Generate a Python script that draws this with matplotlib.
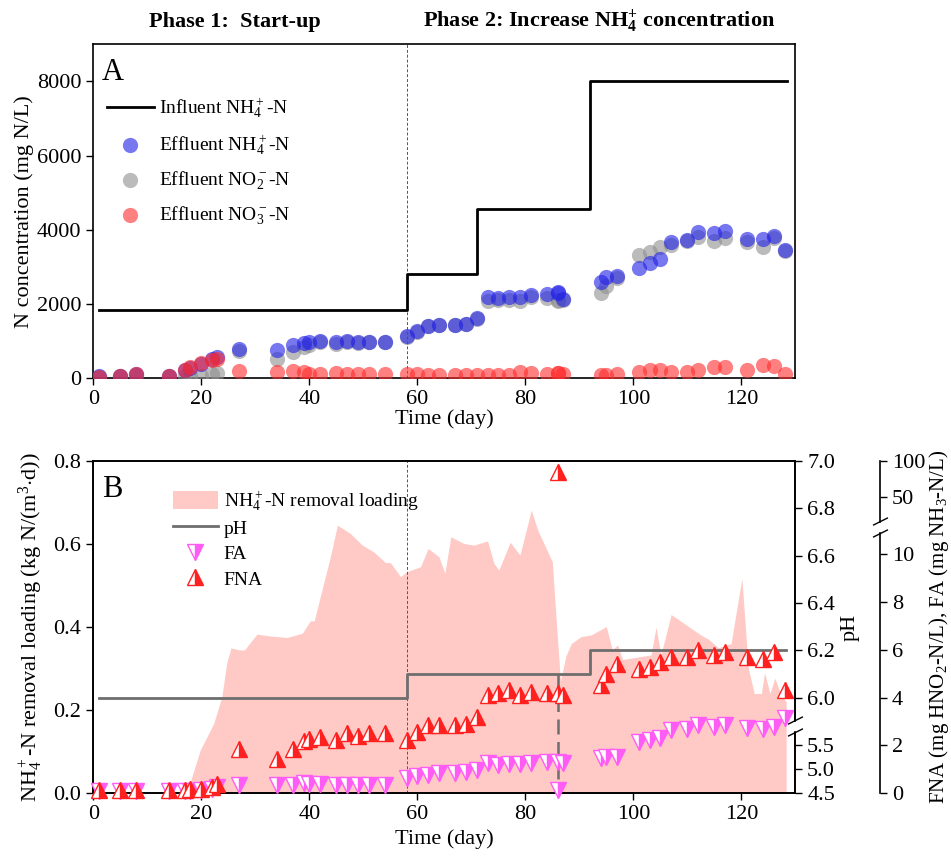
import numpy as np
import matplotlib
matplotlib.use('Agg')
import matplotlib.pyplot as plt
from matplotlib.path import Path

plt.rcParams['font.family'] = ['Liberation Serif', 'DejaVu Serif']
plt.rcParams['mathtext.fontset'] = 'custom'
plt.rcParams['mathtext.rm'] = 'Liberation Serif'
plt.rcParams['mathtext.it'] = 'Liberation Serif:italic'
plt.rcParams['mathtext.bf'] = 'Liberation Serif:bold'
plt.rcParams['font.size'] = 16
plt.rcParams['axes.linewidth'] = 1.2

# Panel A: nitrogen concentrations (mg N/L)
influent_days = [1, 58, 71, 92, 128.4]
influent_nh4 = [1830, 2800, 4550, 8000, 8000]

sample_days = [1, 5, 8, 14, 17, 18, 20, 22, 23, 27, 34, 37, 39, 40, 42, 45, 47, 49, 51, 54,
               58, 60, 62, 64, 67, 69, 71, 73, 75, 77, 79, 81, 84, 86, 86, 87, 94, 95, 97,
               101, 103, 105, 107, 110, 112, 115, 117, 121, 124, 126, 128]
eff_nh4 = [50, 60, 110, 60, 220, 280, 380, 500, 560, 790, 760, 880, 940, 970, 990,
           970, 990, 970, 970, 970, 1120, 1270, 1390, 1430, 1430, 1460, 1620,
           2180, 2150, 2180, 2180, 2240, 2270, 2310, 2280, 2140, 2580, 2720, 2760,
           2970, 3090, 3210, 3660, 3720, 3930, 3910, 3960, 3740, 3750, 3840, 3450]
eff_no2 = [40, 50, 90, 50, 60, 60, 60, 100, 140, 740, 510, 690, 840, 900, 960,
           920, 960, 950, 960, 960, 1110, 1250, 1400, 1420, 1420, 1450, 1600,
           2090, 2100, 2100, 2080, 2180, 2150, 2110, 2090, 2100, 2290, 2490, 2700,
           3330, 3390, 3540, 3600, 3700, 3810, 3690, 3780, 3660, 3540, 3770, 3430]
eff_no3 = [40, 50, 100, 50, 210, 300, 400, 480, 520, 200, 150, 180, 150, 120, 120,
           130, 120, 110, 100, 100, 100, 100, 90, 80, 90, 90, 90,
           70, 70, 90, 160, 130, 120, 130, 140, 110, 90, 90, 100,
           170, 230, 230, 170, 170, 210, 290, 290, 210, 350, 320, 100]

# Panel B: removal loading, pH, FA / FNA
load_days = [17.3, 19.8, 22.3, 23.8, 24.7, 25.5, 27, 28, 30.3, 33,
             35.9, 38.7, 40.2, 40.9, 43.9, 45.2, 47.6, 49.8, 52, 54.1,
             55, 56.9, 58, 60.6, 62, 64, 65.1, 66.2, 68.6, 70.5,
             73, 74.2, 75.1, 77.2, 79, 81.1, 82.3, 85, 85.7, 86.5,
             87.5, 88.5, 90.3, 92.2, 95, 96.1, 97.1, 98, 103.3, 104.2,
             105.1, 107, 112.6, 114, 115.7, 118.1, 120.1, 121.3, 122.4, 123.7,
             124.3, 125.3, 126.2, 127.4, 128.3]
load_vals = [0.0, 0.104, 0.168, 0.232, 0.313, 0.35, 0.345, 0.345, 0.383, 0.378,
             0.375, 0.385, 0.415, 0.415, 0.569, 0.645, 0.625, 0.597, 0.58, 0.555,
             0.555, 0.521, 0.533, 0.545, 0.589, 0.569, 0.529, 0.617, 0.601, 0.597,
             0.607, 0.553, 0.537, 0.604, 0.573, 0.681, 0.633, 0.557, 0.42, 0.27,
             0.33, 0.36, 0.377, 0.381, 0.401, 0.345, 0.357, 0.322, 0.333, 0.4,
             0.333, 0.43, 0.38, 0.37, 0.35, 0.36, 0.517, 0.3, 0.24, 0.24,
             0.29, 0.24, 0.277, 0.236, 0.22]

ph_days = [1, 58, 92, 128.3]
ph_vals = [6.0, 6.1, 6.2, 6.2]
shock_day = 86
shock_ph = 4.78

fna = [0.15, 0.15, 0.15, 0.15, 0.15, 0.2, 0.2, 0.25, 0.4, 1.87, 1.43, 1.85, 2.18, 2.26, 2.36,
       2.22, 2.5, 2.4, 2.5, 2.5, 2.22, 2.57, 2.85, 2.85, 2.85, 2.9, 3.19,
       4.1, 4.2, 4.3, 4.12, 4.23, 4.2, 4.2, 85, 4.1, 4.54, 5.0, 5.42,
       5.18, 5.28, 5.48, 5.69, 5.69, 5.97, 5.79, 5.9, 5.69, 5.6, 5.9, 4.3]
fa = [0.1, 0.1, 0.1, 0.1, 0.1, 0.1, 0.15, 0.2, 0.25, 0.35, 0.35, 0.35, 0.42, 0.4, 0.4,
      0.35, 0.35, 0.35, 0.35, 0.35, 0.66, 0.72, 0.76, 0.83, 0.83, 0.9, 0.97,
      1.25, 1.2, 1.22, 1.22, 1.25, 1.29, 1.3, 0.15, 1.25, 1.46, 1.52, 1.52,
      2.15, 2.22, 2.29, 2.64, 2.68, 2.85, 2.78, 2.85, 2.71, 2.68, 2.78, 3.13]

phase_change = 58


def piecewise(xp, fp):
    xp = np.asarray(xp, float)
    fp = np.asarray(fp, float)

    def f(v):
        v = np.asarray(v, float)
        out = np.interp(v, xp, fp)
        out = np.where(v < xp[0], fp[0] + (v - xp[0]) * (fp[1] - fp[0]) / (xp[1] - xp[0]), out)
        out = np.where(v > xp[-1], fp[-1] + (v - xp[-1]) * (fp[-1] - fp[-2]) / (xp[-1] - xp[-2]), out)
        return out
    return f


# broken axis scales
ph_knots = [4.5, 5.5, 5.88, 7.0]
ph_pos = [0, 48, 67, 332.6]
fx_knots = [0, 10, 50, 100]
fx_pos = [0, 240, 297.3, 333.3]

brk_marker = Path([(-1, -1.3), (1, -0.3), (-1, 0.3), (1, 1.3)],
                  [Path.MOVETO, Path.LINETO, Path.MOVETO, Path.LINETO])

fig = plt.figure(figsize=(9.51, 8.58), dpi=100)
ax_a = fig.add_axes([0.0981, 0.5594, 0.7382, 0.389])
ax_b = fig.add_axes([0.0981, 0.0754, 0.7382, 0.3876])

# ---- Panel A ----
ax_a.step(influent_days, influent_nh4, where='post', color='black', lw=2.0,
          label='Influent NH$_4^+$-N', zorder=2)
ax_a.scatter(sample_days, eff_no2, s=120, color='#8f8f8f', alpha=0.6, lw=0,
             label='Effluent NO$_2^-$-N', zorder=3)
ax_a.scatter(sample_days, eff_nh4, s=120, color='#2424e6', alpha=0.62, lw=0,
             label='Effluent NH$_4^+$-N', zorder=4)
ax_a.scatter(sample_days, eff_no3, s=120, color='#ff2b2b', alpha=0.6, lw=0,
             label='Effluent NO$_3^-$-N', zorder=5)
ax_a.axvline(phase_change, color='#555555', lw=0.7, ls=(0, (3, 2)), zorder=1)
ax_a.set_xlim(0, 130)
ax_a.set_ylim(0, 9000)
ax_a.set_xticks(range(0, 121, 20))
ax_a.set_yticks(range(0, 8001, 2000))
ax_a.set_xlabel('Time (day)', labelpad=0)
ax_a.set_ylabel('N concentration (mg N/L)', labelpad=2)
ax_a.tick_params(direction='out', length=5, width=1, labelsize=16)
ax_a.text(0.012, 0.96, 'A', transform=ax_a.transAxes, fontsize=22, va='top', ha='left')
h, l = ax_a.get_legend_handles_labels()
order = [0, 2, 1, 3]
ax_a.legend([h[i] for i in order], [l[i] for i in order], loc='upper left',
            bbox_to_anchor=(0.0, 0.885), frameon=False, fontsize=14,
            handlelength=2.4, handletextpad=0.3, labelspacing=0.65, borderaxespad=0.3)

# ---- Panel B ----
area = ax_b.fill_between(load_days, load_vals, 0, color='#ffc9c5', lw=0,
                         label='NH$_4^+$-N removal loading')
ax_b.axvline(phase_change, color='#555555', lw=0.7, ls=(0, (3, 2)), zorder=5)
ax_b.set_xlim(0, 130)
ax_b.set_ylim(0, 0.8)
ax_b.set_xticks(range(0, 121, 20))
ax_b.set_yticks([0.0, 0.2, 0.4, 0.6, 0.8])
ax_b.yaxis.set_major_formatter(plt.FormatStrFormatter('%.1f'))
ax_b.set_xlabel('Time (day)')
ax_b.set_ylabel('NH$_4^+$-N removal loading (kg N/(m$^3$$\\cdot$d))', labelpad=6)
ax_b.tick_params(direction='out', length=5, width=1, labelsize=16)
ax_b.text(0.012, 0.958, 'B', transform=ax_b.transAxes, fontsize=22, va='top', ha='left')

# pH axis (broken)
ax2 = ax_b.twinx()
ax2.set_yscale('function', functions=(piecewise(ph_knots, ph_pos), piecewise(ph_pos, ph_knots)))
ax2.set_ylim(4.5, 7.0)
ph_line, = ax2.step(ph_days, ph_vals, where='post', color='#6e6e6e', lw=2.0, label='pH')
ph_at_shock = ph_vals[np.searchsorted(ph_days, shock_day) - 1]
ax2.plot([shock_day, shock_day], [ph_at_shock, shock_ph], color='#6e6e6e', lw=1.8,
         ls=(0, (6, 3)))
ph_ticks = [4.5, 5.0, 5.5, 6.0, 6.2, 6.4, 6.6, 6.8, 7.0]
ax2.set_yticks(ph_ticks)
ax2.set_yticklabels(['%.1f' % t for t in ph_ticks])
ax2.yaxis.set_minor_locator(plt.NullLocator())
ax2.tick_params(direction='out', length=5, width=1, labelsize=16)
ax2.set_ylabel('pH', labelpad=4)
ax2.plot(1.0, ph_knots[2], marker='s', ms=6, color='white', mec='white',
         transform=ax2.get_yaxis_transform(), clip_on=False, zorder=10)
ax2.plot(1.0, ph_knots[2], marker=brk_marker, ms=14, color='black', mew=1.0,
         transform=ax2.get_yaxis_transform(), clip_on=False, zorder=11)

# FNA / FA axis (broken)
ax3 = ax_b.twinx()
ax3.set_yscale('function', functions=(piecewise(fx_knots, fx_pos), piecewise(fx_pos, fx_knots)))
ax3.set_ylim(0, 100)
spine_x = 1.1206
ax3.spines['right'].set_position(('axes', spine_x))
for s in ['top', 'bottom', 'left']:
    ax3.spines[s].set_visible(False)
ax3.set_yticks([0, 2, 4, 6, 8, 10, 50, 100])
ax3.set_yticklabels(['0', '2', '4', '6', '8', '10', '50', '100'])
ax3.yaxis.set_minor_locator(plt.NullLocator())
ax3.tick_params(direction='out', length=5, width=1, labelsize=16)
ax3.set_ylabel('FNA (mg HNO$_2$-N/L), FA (mg NH$_3$-N/L)', labelpad=1, fontsize=15)
fa_line, = ax3.plot(sample_days, fa, ls='none', marker='v', ms=11, fillstyle='right',
                    color='#ff5cf5', mec='#ff5cf5', markerfacecoloralt='white', mew=1.0,
                    label='FA', clip_on=False)
fna_line, = ax3.plot(sample_days, fna, ls='none', marker='^', ms=11, fillstyle='right',
                     color='#ff2020', mec='#ff2020', markerfacecoloralt='white', mew=1.0,
                     label='FNA', clip_on=False)
brk_fx = 29
ax3.plot(spine_x, brk_fx, marker='s', ms=6, color='white', mec='white',
         transform=ax3.get_yaxis_transform(), clip_on=False, zorder=10)
ax3.plot(spine_x, brk_fx, marker=brk_marker, ms=14, color='black', mew=1.0,
         transform=ax3.get_yaxis_transform(), clip_on=False, zorder=11)

ax3.legend([area, ph_line, fa_line, fna_line],
           ['NH$_4^+$-N removal loading', 'pH', 'FA', 'FNA'],
           loc='upper left', bbox_to_anchor=(0.097, 0.95), frameon=False, fontsize=14,
           handlelength=2.3, handleheight=1.0, handletextpad=0.3, labelspacing=0.3,
           borderaxespad=0.2)

fig.text(0.247, 0.974, 'Phase 1:  Start-up', ha='center', va='center',
         fontsize=16, fontweight='bold')
fig.text(0.63, 0.974, 'Phase 2: Increase NH$_\\mathbf{4}^\\mathbf{+}$ concentration',
         ha='center', va='center', fontsize=16, fontweight='bold')

fig.savefig('out.png', dpi=100)
